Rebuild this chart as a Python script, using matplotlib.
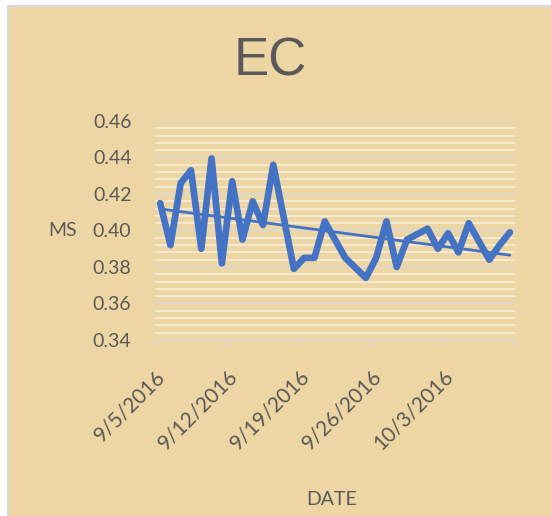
import numpy as np
import matplotlib
matplotlib.use("Agg")
import matplotlib.pyplot as plt
import matplotlib.dates as mdates
from matplotlib.patches import Rectangle
from datetime import datetime

# data (gaps are days with no reading)
dates = ["2016-09-05", "2016-09-06", "2016-09-07", "2016-09-08", "2016-09-09",
         "2016-09-10", "2016-09-11", "2016-09-12", "2016-09-13", "2016-09-14",
         "2016-09-15", "2016-09-16", "2016-09-18", "2016-09-19", "2016-09-20",
         "2016-09-21", "2016-09-23", "2016-09-25", "2016-09-26", "2016-09-27",
         "2016-09-28", "2016-09-29", "2016-10-01", "2016-10-02", "2016-10-03",
         "2016-10-04", "2016-10-05", "2016-10-07", "2016-10-08", "2016-10-09"]
ms = [0.415, 0.392, 0.426, 0.433, 0.390,
      0.4395, 0.382, 0.427, 0.395, 0.416,
      0.403, 0.436, 0.379, 0.385, 0.385,
      0.405, 0.385, 0.374, 0.385, 0.405,
      0.380, 0.395, 0.401, 0.390, 0.3985,
      0.388, 0.404, 0.384, 0.392, 0.399]
tick_dates = ["2016-09-05", "2016-09-12", "2016-09-19", "2016-09-26", "2016-10-03", "2016-10-10"]
tick_labels = ["9/5/2016", "9/12/2016", "9/19/2016", "9/26/2016", "10/3/2016", ""]

BLUE = "#4472C4"
TEXT = "#595959"
GRID = "#D9D9D9"
PAPER = "#EDD6A3"

W, H = 551, 516
fig = plt.figure(figsize=(W / 100, H / 100), dpi=100)
fig.patch.set_facecolor("white")

# chart area frame (starts a few px in from the top-left corner)
bg = Rectangle((8 / W, -0.01), 1.0, 1 - 6 / H + 0.01, transform=fig.transFigure,
               facecolor=PAPER, edgecolor=GRID, linewidth=1.5, zorder=-5)
fig.patches.append(bg)

ax = fig.add_axes([155 / W, 1 - 340 / H, 360 / W, 219 / H])
ax.set_facecolor("none")
ax.set_zorder(2)

# Excel date axis: each day is a slot, points sit in the middle of the slot
x = mdates.date2num([datetime.strptime(d, "%Y-%m-%d") for d in dates]) + 0.5
xt = mdates.date2num([datetime.strptime(d, "%Y-%m-%d") for d in tick_dates])

ax.plot(x, ms, color=BLUE, lw=4.8, solid_joinstyle="round", solid_capstyle="round", zorder=3)

# linear trendline
k, b = np.polyfit(x, ms, 1)
xx = np.array([x[0], x[-1]])
ax.plot(xx, k * xx + b, color=BLUE, lw=2.0, solid_capstyle="round", zorder=3)

ax.set_xlim(xt[0], xt[-1])
ax.set_ylim(0.34, 0.46)
ax.set_yticks(np.arange(0.34, 0.4601, 0.02))
ax.set_yticks(np.arange(0.34, 0.4601, 0.004), minor=True)
ax.set_yticklabels([f"{v:.2f}" for v in np.arange(0.34, 0.4601, 0.02)])
ax.grid(axis="y", which="minor", color="#F7F1E4", lw=1.1, zorder=1)
ax.grid(axis="y", which="major", color=GRID, lw=1.1, zorder=1)
ax.set_axisbelow(True)

ax.set_xticks(xt)
ax.set_xticklabels(tick_labels, rotation=45, ha="right", va="top", rotation_mode="anchor")

for s in ["top", "right", "left"]:
    ax.spines[s].set_visible(False)
ax.spines["bottom"].set_color(GRID)
ax.spines["bottom"].set_linewidth(1.1)

ax.tick_params(axis="y", which="both", length=0, pad=17, labelsize=14, labelcolor=TEXT)
ax.tick_params(axis="x", length=4, width=1.1, color=GRID, pad=15, labelsize=15, labelcolor=TEXT)
for lab in ax.get_yticklabels() + ax.get_xticklabels():
    lab.set_fontfamily("Lato")

ax.set_ylabel("MS", rotation=0, ha="right", va="center", fontsize=14, color=TEXT, family="Lato")
ax.yaxis.set_label_coords((77 - 155) / 360, (340 - 231) / 219)
ax.set_xlabel("DATE", ha="center", va="center", fontsize=14, color=TEXT, family="Lato")
ax.xaxis.set_label_coords((332 - 155) / 360, (340 - 500) / 219)

fig.text(270 / W, 1 - 61 / H, "EC", ha="center", va="center", fontsize=38,
         color=TEXT, family="Liberation Sans")

fig.savefig("out.png", dpi=100)
